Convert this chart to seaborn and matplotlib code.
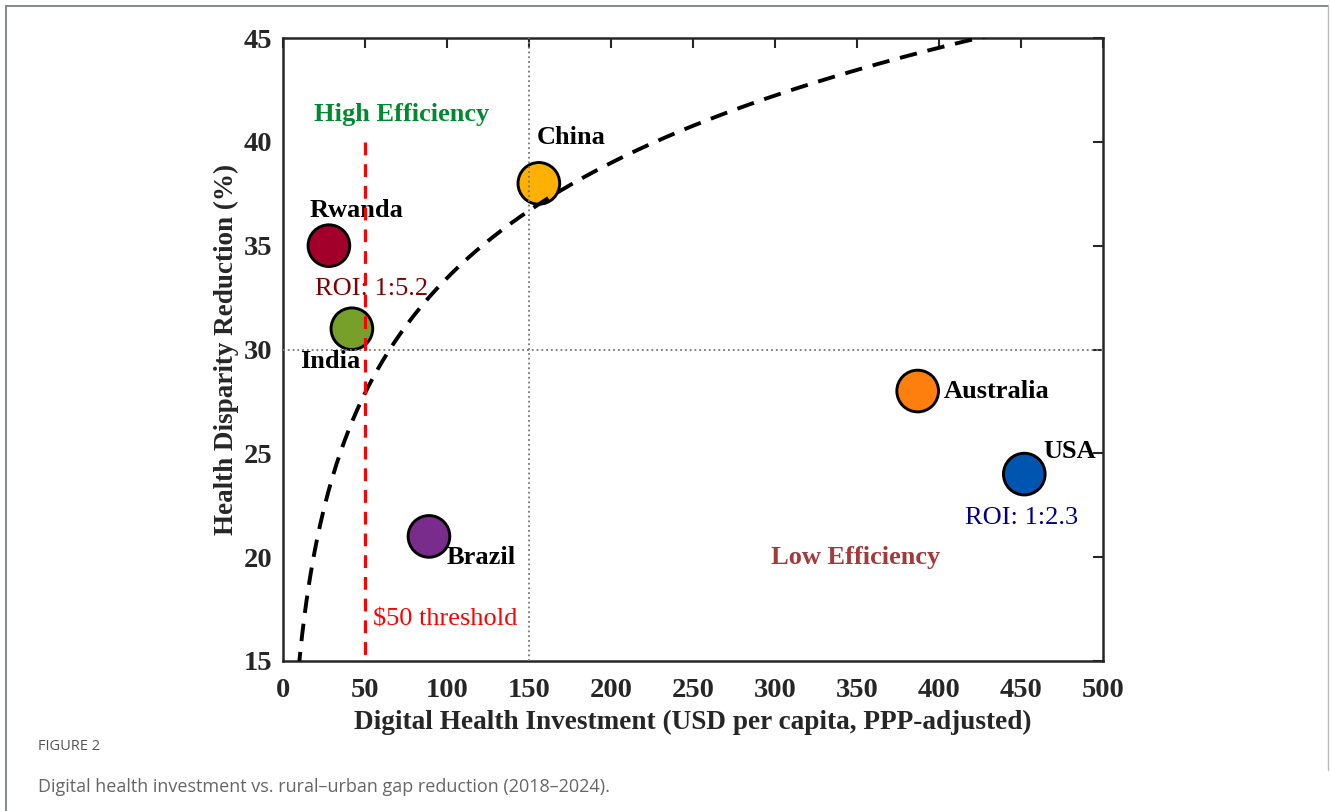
import numpy as np
import pandas as pd
import seaborn as sns
import matplotlib.pyplot as plt
from matplotlib.lines import Line2D

# country data
countries = ["Rwanda", "India", "Brazil", "China", "Australia", "USA"]
investment = [28, 42, 89, 156, 387, 452]
reduction = [35, 31, 21, 38, 28, 24]
colors = ["#A2002A", "#76A02A", "#7A2C8C", "#FFB000", "#FF7F0E", "#0055B0"]

# dashed trend: y = a + b*ln(x)
trend_a = -3.4
trend_b = 8.0

x_ticks = [0, 50, 100, 150, 200, 250, 300, 350, 400, 450, 500]
y_ticks = [15, 20, 25, 30, 35, 40, 45]

sns.set_style("white")
plt.rcParams['font.family'] = ['Liberation Serif', 'DejaVu Serif']

df = pd.DataFrame({"Country": countries, "Investment": investment, "Reduction": reduction})
trend_x = np.linspace(8, 500, 400)
trend = pd.DataFrame({"x": trend_x, "y": trend_a + trend_b * np.log(trend_x)})

fig = plt.figure(figsize=(13.3, 8.11), dpi=100)
ax = fig.add_axes([283 / 1330, 1 - 661 / 811, 820 / 1330, 623 / 811])

sns.scatterplot(data=df, x="Investment", y="Reduction", hue="Country",
                palette=colors, s=900, edgecolor="black", linewidth=2.1,
                legend=False, ax=ax, zorder=2)

# lines are drawn over the markers, as in the original
ax.axvline(150, color="#777777", ls=":", lw=1.3, zorder=3)
ax.axhline(30, color="#777777", ls=":", lw=1.3, zorder=3)
sns.lineplot(data=trend, x="x", y="y", ax=ax, color="black", lw=2.8,
             linestyle=(0, (4.5, 2.8)), zorder=4)
ax.plot([50, 50], [40, 15], color="#FF0000", ls=(0, (4, 2.8)), lw=2.3, zorder=6)

ax.set_xlim(0, 500)
ax.set_ylim(15, 45)
ax.set_xticks(x_ticks)
ax.set_yticks(y_ticks)
ax.tick_params(direction="in", length=7, width=1.5, top=True, right=True,
               labelsize=20.5, colors="#262626")
ax.tick_params(axis="x", pad=12)
ax.tick_params(axis="y", pad=8)
for lab in ax.get_xticklabels() + ax.get_yticklabels():
    lab.set_fontweight("bold")
for sp in ax.spines.values():
    sp.set_color("#262626")
    sp.set_linewidth(1.8)

ax.set_xlabel("Digital Health Investment (USD per capita, PPP-adjusted)",
              fontsize=19.6, fontweight="bold", color="#262626", labelpad=5)
ax.set_ylabel("Health Disparity Reduction (%)", fontsize=19.5, fontweight="bold",
              color="#262626", labelpad=3)

bold = dict(fontsize=19, fontweight="bold", color="black", ha="center", va="center", zorder=5)
ax.text(176, 40.2, "China", **bold)
ax.text(45, 36.7, "Rwanda", **bold)
ax.text(29, 29.4, "India", **bold)
ax.text(121, 20.0, "Brazil", **bold)
ax.text(435, 28.0, "Australia", **bold)
ax.text(480, 25.1, "USA", **bold)

ax.text(72.5, 41.3, "High Efficiency", fontsize=19, fontweight="bold",
        color="#00892E", ha="center", va="center")
ax.text(349, 20.0, "Low Efficiency", fontsize=19, fontweight="bold",
        color="#A33A3A", ha="center", va="center")
ax.text(53.7, 32.9, "ROI: 1:5.2", fontsize=19, color="#7F0000", ha="center", va="center", zorder=5)
ax.text(450.6, 21.9, "ROI: 1:2.3", fontsize=19, color="#000080", ha="center", va="center")
ax.text(99, 17.0, "$50 threshold", fontsize=19, color="#FF0000", ha="center", va="center")

# outer frame and caption
frame = dict(color="#7A7F85", lw=1.3, transform=fig.transFigure)
fig.add_artist(Line2D([6 / 1330, 6 / 1330], [0, 1 - 6 / 811], **frame))
fig.add_artist(Line2D([6 / 1330, 1328 / 1330], [1 - 6 / 811, 1 - 6 / 811], **frame))
fig.add_artist(Line2D([1328 / 1330, 1328 / 1330], [1 - 6 / 811, 1 - 770 / 811], color="#BBBBBB", lw=1.0,
                      transform=fig.transFigure))

fig.text(38 / 1330, 1 - 746 / 811, "FIGURE 2", fontsize=10.5, color="#555555",
         family="Open Sans", va="center", ha="left")
fig.text(38 / 1330, 1 - 787 / 811,
         "Digital health investment vs. rural\u2013urban gap reduction (2018\u20132024).",
         fontsize=13, color="#666666", family="Open Sans", va="center", ha="left")

fig.savefig("out.png", dpi=100)
